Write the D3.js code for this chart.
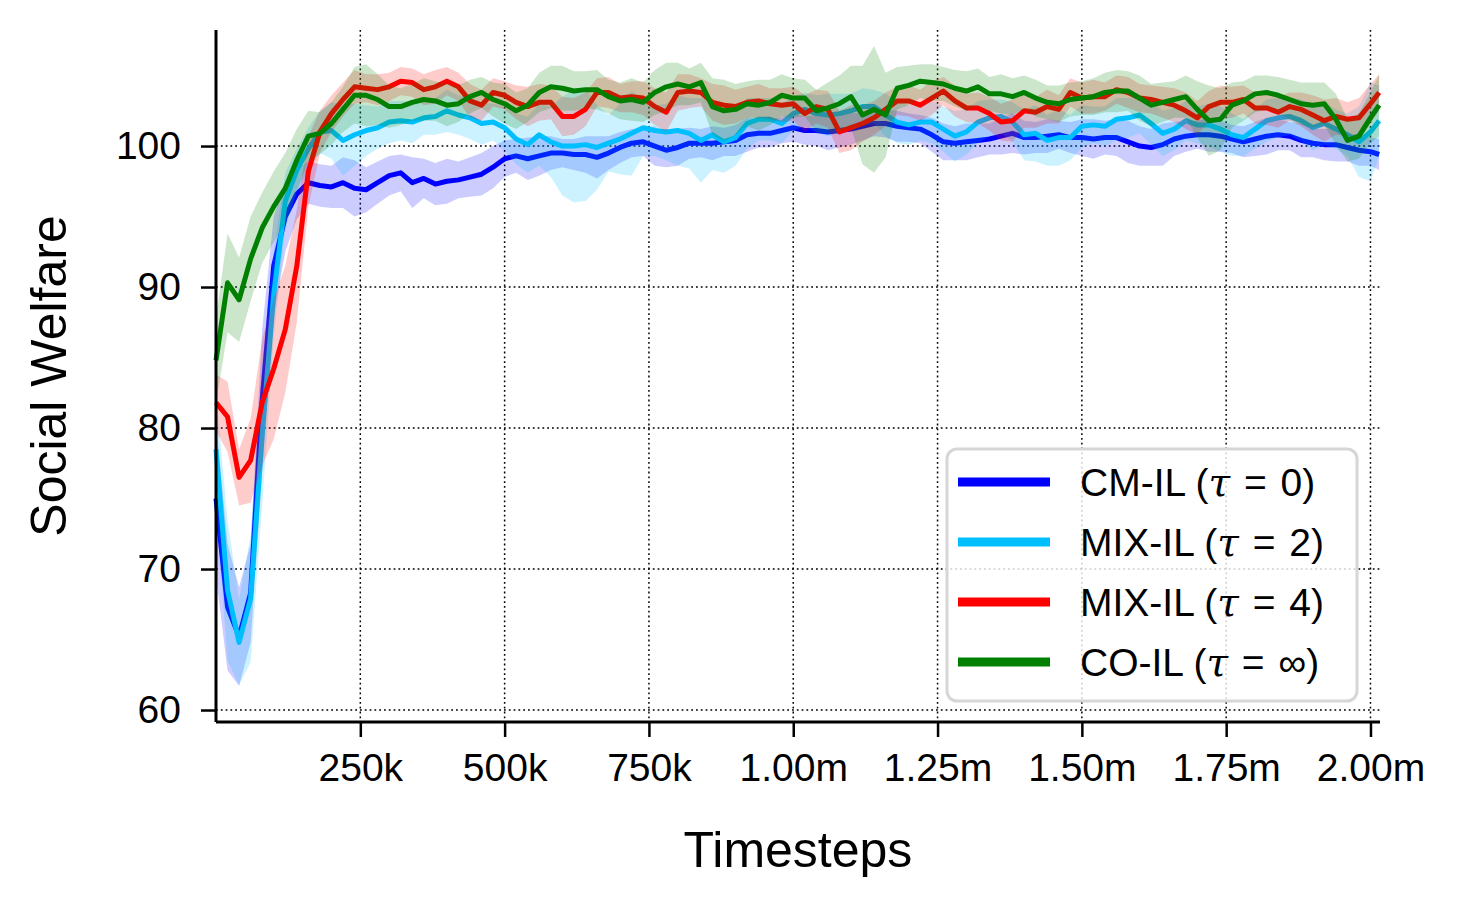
<!DOCTYPE html>
<html>
<head>
<meta charset="utf-8">
<script src="https://cdn.jsdelivr.net/npm/d3@7"></script>
<style>
  body { margin: 0; background: #fff; }
  svg text { font-family: "Liberation Sans", Arial, Helvetica, sans-serif; fill: #000; }
</style>
</head>
<body>
<script>
// timesteps, in thousands
const timesteps = [
  0, 20, 40, 60, 80, 100, 120, 140, 160, 180,
  200, 220, 240, 260, 280, 300, 320, 340, 360, 380,
  400, 420, 440, 460, 480, 500, 520, 540, 560, 580,
  600, 620, 640, 660, 680, 700, 720, 740, 760, 780,
  800, 820, 840, 860, 880, 900, 920, 940, 960, 980,
  1000, 1020, 1040, 1060, 1080, 1100, 1120, 1140, 1160, 1180,
  1200, 1220, 1240, 1260, 1280, 1300, 1320, 1340, 1360, 1380,
  1400, 1420, 1440, 1460, 1480, 1500, 1520, 1540, 1560, 1580,
  1600, 1620, 1640, 1660, 1680, 1700, 1720, 1740, 1760, 1780,
  1800, 1820, 1840, 1860, 1880, 1900, 1920, 1940, 1960, 1980,
  2000, 2015
]

// mean social welfare per run type
const cmIL = [
  75.0, 67.3, 65.2, 68.3, 82.0, 91.5, 95.0, 96.6, 97.4, 97.2,
  97.1, 97.4, 97.0, 96.9, 97.4, 97.9, 98.1, 97.4, 97.7, 97.3,
  97.5, 97.6, 97.8, 98.0, 98.5, 99.1, 99.3, 99.1, 99.3, 99.5,
  99.5, 99.4, 99.4, 99.2, 99.5, 99.9, 100.2, 100.3, 100.0, 99.7,
  99.9, 100.2, 100.2, 100.2, 100.3, 100.4, 100.8, 100.9, 100.9, 101.1,
  101.3, 101.1, 101.1, 101.0, 101.1, 101.2, 101.4, 101.6, 101.6, 101.4,
  101.3, 101.2, 100.8, 100.3, 100.2, 100.3, 100.4, 100.5, 100.7, 100.9,
  100.6, 100.6, 100.7, 100.8, 100.6, 100.6, 100.5, 100.6, 100.6, 100.3,
  100.0, 99.9, 100.1, 100.5, 100.7, 100.8, 100.8, 100.7, 100.5, 100.3,
  100.5, 100.7, 100.8, 100.7, 100.4, 100.2, 100.1, 100.1, 99.9, 99.7,
  99.6, 99.4
]
const mix2 = [
  78.5, 68.5, 64.8, 67.9, 79.5, 89.5, 96.1, 98.3, 99.8, 101.0,
  101.1, 100.4, 100.8, 101.1, 101.3, 101.7, 101.8, 101.7, 102.0, 102.1,
  102.5, 102.2, 102.0, 101.6, 101.7, 101.3, 100.5, 100.1, 100.8, 100.3,
  100.0, 100.0, 100.1, 99.9, 100.2, 100.5, 100.9, 101.3, 101.1, 101.0,
  101.1, 100.9, 100.4, 100.8, 100.3, 100.6, 101.6, 101.9, 101.9, 101.6,
  102.3, 102.6, 102.3, 102.2, 102.3, 102.5, 102.8, 102.8, 102.2, 101.7,
  101.5, 101.7, 101.7, 101.2, 100.7, 101.0, 101.7, 102.0, 102.1, 101.7,
  100.8, 100.9, 100.4, 100.6, 100.6, 101.4, 101.5, 101.4, 101.9, 102.0,
  102.2, 101.6, 100.9, 101.2, 101.8, 101.5, 101.5, 101.2, 100.8, 100.6,
  101.2, 101.8, 102.0, 102.1, 101.8, 101.3, 101.6, 101.2, 100.8, 100.3,
  101.0, 101.8
]
const mix4 = [
  81.8, 80.8, 76.5, 77.7, 81.8, 84.2, 87.0, 91.5, 98.2, 101.0,
  102.3, 103.3, 104.2, 104.1, 104.0, 104.2, 104.6, 104.5, 104.0, 104.2,
  104.6, 104.2, 103.2, 102.9, 103.8, 103.6, 103.1, 102.8, 103.1, 103.1,
  102.1, 102.1, 102.6, 103.8, 103.8, 103.4, 103.5, 103.4, 102.8, 102.4,
  103.8, 103.9, 103.8, 103.1, 102.9, 102.8, 103.1, 103.2, 103.0, 102.9,
  103.0, 102.3, 102.8, 102.6, 101.0, 101.3, 101.6, 102.0, 102.6, 103.2,
  103.2, 102.9, 103.4, 103.9, 103.2, 102.7, 102.7, 102.3, 101.7, 101.8,
  102.5, 102.4, 102.8, 102.6, 103.8, 103.4, 103.5, 103.5, 104.0, 103.8,
  103.4, 103.3, 103.1, 102.9, 102.5, 102.0, 102.8, 103.1, 103.1, 103.3,
  102.7, 102.7, 102.4, 102.8, 102.6, 102.2, 101.8, 102.1, 101.9, 102.0,
  103.0, 103.8
]
const coIL = [
  84.8, 90.3, 89.1, 92.0, 94.2, 95.7, 97.0, 99.0, 100.7, 100.9,
  101.6, 102.6, 103.6, 103.6, 103.3, 102.8, 102.8, 103.1, 103.3, 103.2,
  102.9, 103.0, 103.5, 103.8, 103.3, 103.0, 102.5, 102.9, 103.8, 104.2,
  104.1, 103.9, 104.0, 104.0, 103.5, 103.2, 103.3, 103.1, 103.8, 104.2,
  104.4, 104.2, 104.5, 102.8, 102.5, 102.6, 103.0, 102.9, 103.1, 103.6,
  103.4, 103.4, 102.5, 102.7, 103.0, 103.5, 102.2, 102.6, 102.2, 104.1,
  104.3, 104.6, 104.5, 104.4, 104.1, 103.9, 104.2, 103.7, 103.7, 103.5,
  103.8, 103.4, 103.1, 103.0, 103.3, 103.4, 103.5, 103.8, 103.9, 103.9,
  103.4, 102.9, 103.1, 103.3, 103.5, 102.6, 101.8, 101.9, 102.9, 103.2,
  103.7, 103.8, 103.6, 103.3, 103.0, 102.9, 103.0, 101.9, 100.4, 100.7,
  102.0, 102.9
]

// half-width of the shaded band
const cmILSpread = [
  5.5, 4.5, 3.5, 3.5, 5.0, 3.5, 2.5, 1.8, 1.5, 1.5,
  1.5, 1.8, 2.0, 1.6, 1.5, 1.4, 1.3, 1.8, 1.4, 1.5,
  1.6, 1.3, 1.4, 1.5, 1.5, 1.3, 1.2, 1.5, 1.4, 1.2,
  1.0, 1.1, 1.3, 1.5, 1.2, 1.1, 1.0, 1.0, 1.4, 1.2,
  1.3, 1.1, 1.0, 1.2, 1.0, 1.1, 1.2, 1.0, 1.0, 0.9,
  1.0, 1.0, 1.1, 1.3, 1.2, 1.1, 1.0, 0.9, 1.0, 1.1,
  1.0, 1.0, 1.2, 1.3, 1.2, 1.3, 1.2, 1.1, 1.3, 1.4,
  1.2, 1.1, 1.2, 1.0, 1.1, 1.3, 1.4, 1.2, 1.3, 1.5,
  1.4, 1.3, 1.5, 1.2, 1.1, 1.0, 1.2, 1.1, 1.0, 1.1,
  1.2, 1.3, 1.1, 1.0, 1.2, 1.0, 1.1, 1.2, 1.0, 1.1,
  1.0, 1.1
]
const mix2Spread = [
  4.0, 5.0, 3.0, 4.5, 5.0, 3.0, 2.0, 1.5, 1.5, 1.5,
  2.0, 2.5, 2.2, 1.8, 1.5, 1.5, 1.4, 1.5, 1.2, 1.3,
  1.5, 1.4, 1.5, 1.5, 1.3, 1.6, 1.8, 2.0, 2.2, 2.5,
  3.5, 4.0, 4.0, 3.0, 2.0, 2.5, 3.0, 2.0, 1.8, 2.0,
  2.5, 2.5, 3.0, 2.5, 2.2, 2.0, 1.8, 1.5, 1.5, 1.4,
  1.2, 1.2, 1.3, 1.5, 1.4, 1.2, 1.3, 1.2, 1.5, 1.5,
  1.4, 1.3, 1.5, 1.6, 1.8, 1.6, 1.5, 1.3, 1.2, 1.4,
  1.8, 2.0, 1.8, 2.0, 1.6, 1.5, 1.3, 1.4, 1.5, 1.4,
  1.3, 1.5, 1.6, 1.5, 1.4, 1.3, 1.5, 1.6, 1.5, 1.3,
  1.4, 1.5, 1.4, 1.3, 1.5, 1.6, 1.5, 1.4, 1.5, 2.5,
  3.5, 2.5
]
const mix4Spread = [
  2.0, 2.5, 2.0, 3.0, 4.5, 5.0, 4.5, 4.0, 2.5, 1.5,
  1.3, 1.2, 1.2, 1.0, 1.1, 1.0, 1.0, 1.0, 1.1, 1.2,
  1.0, 1.0, 1.2, 1.1, 1.0, 1.0, 1.2, 1.4, 1.3, 1.2,
  1.4, 1.3, 1.2, 1.0, 1.1, 1.0, 1.1, 1.2, 1.3, 1.4,
  1.3, 1.2, 1.0, 1.3, 1.4, 1.2, 1.1, 1.2, 1.1, 1.2,
  1.2, 1.3, 1.2, 1.3, 1.5, 1.6, 1.3, 1.2, 1.2, 1.0,
  1.1, 1.1, 1.2, 1.0, 1.1, 1.0, 1.1, 1.2, 1.3, 1.5,
  1.2, 1.1, 1.2, 1.0, 1.0, 1.1, 1.2, 1.0, 1.0, 1.1,
  1.0, 1.0, 1.1, 1.2, 1.3, 1.2, 1.1, 1.2, 1.1, 1.0,
  1.1, 1.2, 1.1, 1.0, 1.2, 1.4, 1.5, 1.3, 1.2, 1.4,
  1.4, 1.3
]
const coILSpread = [
  3.0, 3.5, 3.0, 3.0, 2.5, 2.5, 2.5, 2.2, 1.8, 1.5,
  1.5, 1.6, 2.0, 2.2, 1.8, 1.5, 1.3, 1.3, 1.5, 1.4,
  1.5, 1.3, 1.2, 1.1, 1.2, 1.4, 1.3, 1.2, 1.4, 1.5,
  1.6, 1.4, 1.3, 1.4, 1.2, 1.3, 1.5, 1.4, 1.6, 1.7,
  1.5, 1.3, 1.4, 2.0, 2.2, 1.8, 1.6, 1.8, 1.6, 1.5,
  1.4, 1.3, 1.5, 1.8, 2.0, 2.2, 3.5, 4.5, 3.0, 1.5,
  1.4, 1.2, 1.3, 1.2, 1.3, 1.4, 1.3, 1.2, 1.4, 1.3,
  1.2, 1.3, 1.2, 1.3, 1.2, 1.2, 1.3, 1.4, 1.5, 1.4,
  1.6, 1.5, 1.4, 1.3, 1.5, 2.0, 2.5, 2.2, 1.6, 1.4,
  1.3, 1.2, 1.3, 1.4, 1.5, 1.6, 1.5, 1.8, 1.5, 1.6,
  1.8, 2.2
]

const seriesNames = ['CM-IL', 'MIX-IL', 'MIX-IL', 'CO-IL']
const tauLabels = ['0', '2', '4', '\u221e']
const colors = ['#0000ff', '#00bfff', '#ff0000', '#008000']
const xTicks = [250, 500, 750, 1000, 1250, 1500, 1750, 2000]
const xTickLabels = ['250k', '500k', '750k', '1.00m', '1.25m', '1.50m', '1.75m', '2.00m']
const yTicks = [60, 70, 80, 90, 100]

const W = 1458, H = 908
const mLeft = 216, mRight = 1380, mTop = 30, mBottom = 722

const svg = d3.select('body').append('svg')
  .attr('width', W)
  .attr('height', H)

const x = d3.scaleLinear().domain([0, 2016.5]).range([mLeft, mRight])
const y = d3.scaleLinear().domain([59.15, 108.23]).range([mBottom, mTop])

// dotted grid
const grid = svg.append('g')
  .attr('stroke', '#000')
  .attr('stroke-width', 1.5)
  .attr('stroke-dasharray', '1.8,3')
grid.selectAll('line.gx').data(xTicks).enter().append('line')
  .attr('class', 'gx')
  .attr('x1', d => x(d)).attr('x2', d => x(d))
  .attr('y1', mTop).attr('y2', mBottom)
grid.selectAll('line.gy').data(yTicks).enter().append('line')
  .attr('class', 'gy')
  .attr('x1', mLeft).attr('x2', mRight)
  .attr('y1', d => y(d)).attr('y2', d => y(d))

// bands and lines
const means = [cmIL, mix2, mix4, coIL]
const spreads = [cmILSpread, mix2Spread, mix4Spread, coILSpread]

const plot = svg.append('g')
means.forEach((m, k) => {
  const rows = timesteps.map((t, i) => ({ t: t, v: m[i], s: spreads[k][i] }))
    .filter(r => r.v !== undefined && r.s !== undefined)
  const area = d3.area()
    .x(d => x(d.t))
    .y0(d => y(d.v - d.s))
    .y1(d => y(d.v + d.s))
  const line = d3.line()
    .x(d => x(d.t))
    .y(d => y(d.v))
  plot.append('path').datum(rows)
    .attr('d', area)
    .attr('fill', colors[k])
    .attr('fill-opacity', 0.2)
    .attr('stroke', 'none')
  plot.append('path').datum(rows)
    .attr('d', line)
    .attr('fill', 'none')
    .attr('stroke', colors[k])
    .attr('stroke-width', 5)
    .attr('stroke-linejoin', 'round')
})

// axes
const xAxis = d3.axisBottom(x)
  .tickValues(xTicks)
  .tickFormat((d, i) => xTickLabels[i])
  .tickSize(15)
  .tickPadding(16)
const yAxis = d3.axisLeft(y)
  .tickValues(yTicks)
  .tickSize(15)
  .tickPadding(20)

const gx = svg.append('g').attr('transform', `translate(0,${mBottom})`).call(xAxis)
const gy = svg.append('g').attr('transform', `translate(${mLeft},0)`).call(yAxis)
gx.select('.domain').attr('d', `M${mLeft},0H${mRight}`).attr('stroke-width', 3)
gy.select('.domain').attr('d', `M0,${mTop}V${mBottom}`).attr('stroke-width', 3)
svg.selectAll('.tick line').attr('stroke-width', 2.5)
svg.selectAll('.tick text')
  .style('font-family', '"Liberation Sans", Arial, sans-serif')
  .style('font-size', '39px')
gx.selectAll('.tick text').attr('dy', '0.71em')

// axis titles
svg.append('text')
  .attr('x', (mLeft + mRight) / 2)
  .attr('y', 867)
  .attr('text-anchor', 'middle')
  .style('font-size', '50px')
  .text('Timesteps')
svg.append('text')
  .attr('transform', `translate(66,${(mTop + mBottom) / 2}) rotate(-90)`)
  .attr('text-anchor', 'middle')
  .style('font-size', '50px')
  .text('Social Welfare')

// legend
const legend = svg.append('g').attr('transform', 'translate(947,449)')
legend.append('rect')
  .attr('width', 410).attr('height', 252)
  .attr('rx', 10).attr('ry', 10)
  .attr('fill', '#fff').attr('fill-opacity', 0.8)
  .attr('stroke', '#d6d6d6').attr('stroke-width', 3)

seriesNames.forEach((name, k) => {
  const row = legend.append('g').attr('transform', `translate(0,${33 + k * 60})`)
  row.append('line')
    .attr('x1', 11).attr('x2', 103)
    .attr('stroke', colors[k]).attr('stroke-width', 9)
  const t = row.append('text')
    .attr('x', 133).attr('y', 14)
    .style('font-size', '39px')
  t.append('tspan').text(name + ' (')
  t.append('tspan')
    .style('font-family', '"DejaVu Serif", serif')
    .style('font-style', 'italic')
    .text('\u03c4')
  t.append('tspan').attr('dx', 3).text('\u00a0=\u00a0')
  t.append('tspan').attr('dx', 3).text(tauLabels[k] + ')')
})
</script>
</body>
</html>
